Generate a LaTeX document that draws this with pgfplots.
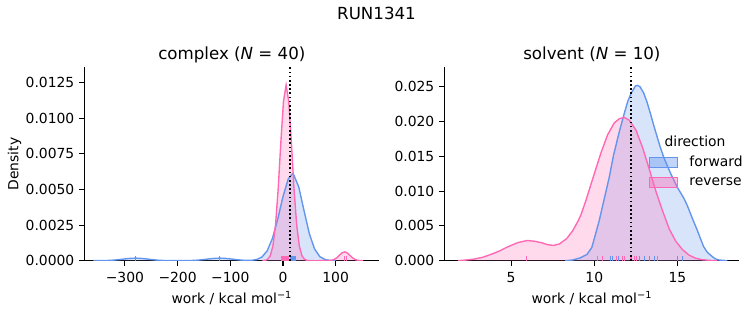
\documentclass[border=0pt]{standalone}
\usepackage{fontspec}
\setmainfont{DejaVu Sans}[ItalicFont={DejaVu Sans Oblique},BoldFont={DejaVu Sans Bold}]
\usepackage{pgfplots}
\pgfplotsset{compat=1.18}
\definecolor{fwd}{RGB}{100,149,237}
\definecolor{rev}{RGB}{255,105,180}
\pgfplotsset{
 common/.style={
  scale only axis, width=212.5pt, height=139.2pt,
  axis x line*=bottom, axis y line*=left,
  xtick pos=left, ytick pos=left, xticklabel pos=left, yticklabel pos=left,
  axis line style={-, line width=0.8pt, black},
  tick align=outside, major tick length=3.5pt,
  tick style={black, line width=0.8pt},
  scaled x ticks=false, scaled y ticks=false,
  tick label style={font=\normalsize},
  xticklabel style={anchor=north, inner sep=0pt, yshift=-4.9pt},
  yticklabel style={anchor=east, inner sep=0pt, xshift=-3.5pt},
  minor tick num=0,
 },
 kdefill/.style={fill=#1, fill opacity=0.25, draw=none, forget plot},
 kdeline/.style={draw=#1, line width=1pt, forget plot},
 rug/.style={draw=#1, ycomb, line width=0.7pt, mark=none, forget plot},
 vline/.style={black, line width=1.2pt, dash pattern=on 1.2pt off 1.8pt, forget plot},
}
\begin{document}
\begin{tikzpicture}
\path[use as bounding box] (0,0) rectangle (542.16pt,234pt);
\node[anchor=base, font=\large, inner sep=0pt] at (271.08pt,220.3pt) {RUN1341};

% ---------------- complex ----------------
\begin{axis}[common, name=L, at={(60.7pt,46.3pt)}, anchor=south west,
  xmin=-377.1, xmax=183.2, ymin=0, ymax=0.01358,
  xtick={-300,-200,-100,0,100}, xticklabels={−300,−200,−100,0,100},
  ytick={0,0.0025,0.005,0.0075,0.01,0.0125},
  yticklabels={0.0000,0.0025,0.0050,0.0075,0.0100,0.0125}]
\pgfplotstableread{
x y
-360 0.0000007
-350 0.0000026
-340 0.0000079
-330 0.0000205
-320 0.0000449
-310 0.0000824
-300 0.000127
-290 0.000165
-280 0.00018
-270 0.000165
-260 0.000127
-250 0.0000824
-240 0.0000449
-230 0.0000205
-220 0.0000079
-210 0.0000026
-200 0.0000014
-190 0.0000026
-180 0.0000079
-170 0.0000205
-160 0.0000449
-150 0.0000824
-140 0.000127
-130 0.000165
-120 0.00018
-110 0.000165
-100 0.000127
-90 0.0000824
-80 0.0000449
-70 0.0000205
-60 0.0000273
-50 0.0000798
-40 0.000255
-30 0.000691
-20 0.001558
-10 0.002907
0 0.004491
10 0.005742
18 0.0061
20 0.006072
30 0.005181
40 0.003524
50 0.00191
60 0.000826
70 0.000284
80 0.0000781
90 0.0000171
100 0.000003
}\cfwd
\pgfplotstableread{
x y
-39 0.0000041
-34 0.000022
-29 0.0000963
-24 0.000352
-19 0.001044
-14 0.00254
-9 0.005073
-4 0.008312
1 0.01118
6 0.01234
11 0.01118
16 0.008312
21 0.005073
26 0.00254
31 0.001044
36 0.000352
41 0.0000963
46 0.000022
51 0.0000041
60 0
82 0.0000014
87 0.0000069
92 0.0000272
97 0.0000839
102 0.000201
107 0.000376
112 0.000547
117 0.00062
122 0.000547
127 0.000376
132 0.000201
137 0.0000839
142 0.0000272
147 0.0000069
152 0.0000014
}\crev
\addplot[kdefill=fwd] table {\cfwd} \closedcycle;
\addplot[kdefill=rev] table {\crev} \closedcycle;
\addplot[kdeline=fwd] table {\cfwd};
\addplot[kdeline=rev] table {\crev};
\addplot[rug=fwd] coordinates {(-280,0.00034) (-120,0.00034) (15,0.00034) (16,0.00034) (17,0.00034) (18,0.00034) (19,0.00034) (20,0.00034) (21,0.00034) (22,0.00034) (23,0.00034)};
\addplot[rug=rev] coordinates {(-2,0.00034) (-1,0.00034) (0,0.00034) (1,0.00034) (2,0.00034) (3,0.00034) (4,0.00034) (5,0.00034) (6,0.00034) (7,0.00034) (8,0.00034) (9,0.00034) (10,0.00034) (11,0.00034) (116,0.00034) (121,0.00034)};
\addplot[vline] coordinates {(14,0) (14,0.01358)};
\end{axis}
\node[anchor=base, font=\large, inner sep=0pt] at ([yshift=6pt]L.north) {complex (\textit{N} = 40)};
\node[anchor=base, inner sep=0pt] at ([yshift=-30.5pt]L.south) {work / kcal mol\textsuperscript{−1}};
\node[anchor=base, rotate=90, inner sep=0pt] at ([xshift=-47.4pt]L.west) {Density};

% ---------------- solvent ----------------
\begin{axis}[common, name=R, at={(319.9pt,46.3pt)}, anchor=south west,
  xmin=0.98, xmax=18.73, ymin=0, ymax=0.02779,
  xtick={5,10,15}, xticklabels={5,10,15},
  ytick={0,0.005,0.01,0.015,0.02,0.025},
  yticklabels={0.000,0.005,0.010,0.015,0.020,0.025},
  legend image code/.code={\draw[#1] (0pt,-3.6pt) rectangle (19.7pt,3.6pt);},
  legend style={at={(axis description cs:0.6946,0.540)}, anchor=north west,
    draw=none, fill=none, inner sep=0pt, outer sep=0pt,
    column sep=8.4pt, row sep=5.6pt, nodes={inner sep=0pt}, font=\normalsize},
  legend cell align=left]
\pgfplotstableread{
x y
8.25 0
8.7 0.0001
9.15 0.0004
9.56 0.0009
9.85 0.0019
10.06 0.0037
10.3 0.0058
10.56 0.0085
10.9 0.0120
11.16 0.0152
11.5 0.0185
11.77 0.0209
12.0 0.0228
12.2 0.0240
12.47 0.0251
12.6 0.0252
12.75 0.0250
12.97 0.0241
13.17 0.0228
13.37 0.0212
13.57 0.0195
13.78 0.0178
13.97 0.0163
14.17 0.0149
14.38 0.0137
14.58 0.0126
14.78 0.0116
14.98 0.0106
15.18 0.0098
15.38 0.0090
15.58 0.0080
15.78 0.0068
15.98 0.0056
16.19 0.0044
16.38 0.0032
16.58 0.0020
16.8 0.0012
16.99 0.0008
17.25 0.0003
17.5 0.0001
18.0 0
}\sfwd
\pgfplotstableread{
x y
1.8 0
2.3 0.0001
2.8 0.00024
3.3 0.0005
3.8 0.00092
4.3 0.0014
4.8 0.002
5.4 0.0026
5.95 0.0029
6.4 0.0028
6.8 0.0026
7.2 0.0023
7.55 0.0022
7.9 0.0024
8.35 0.0032
8.7 0.0043
9.0 0.0056
9.2 0.0066
9.5 0.0087
9.75 0.0106
10.0 0.0125
10.4 0.0155
10.8 0.0181
11.2 0.0198
11.5 0.0204
11.8 0.0206
12.1 0.0202
12.5 0.0188
12.9 0.0163
13.3 0.0132
13.7 0.0100
14.1 0.0072
14.5 0.0046
14.9 0.0028
15.3 0.0016
15.7 0.0008
16.1 0.00035
16.5 0.00014
17.0 0.00004
17.4 0
}\srev
\addplot[kdefill=fwd] table {\sfwd} \closedcycle;
\addplot[kdefill=rev] table {\srev} \closedcycle;
\addplot[kdeline=fwd] table {\sfwd};
\addplot[kdeline=rev] table {\srev};
\addplot[rug=fwd] coordinates {(10.98,0.00069) (11.08,0.00069) (11.47,0.00069) (12.23,0.00069) (12.73,0.00069) (13.03,0.00069) (13.33,0.00069) (13.6,0.00069) (14.98,0.00069) (15.3,0.00069)};
\addplot[rug=rev] coordinates {(5.95,0.00069) (10.18,0.00069) (10.48,0.00069) (11.36,0.00069) (11.69,0.00069) (11.83,0.00069) (12.2,0.00069) (12.43,0.00069) (12.53,0.00069) (13.8,0.00069)};
\addplot[vline] coordinates {(12.2,0) (12.2,0.02779)};
\addlegendimage{draw=fwd, fill=fwd, fill opacity=0.4, line width=0.8pt}
\addlegendentry{forward}
\addlegendimage{draw=rev, fill=rev, fill opacity=0.4, line width=0.8pt}
\addlegendentry{reverse}
\node[anchor=base, inner sep=0pt, font=\normalsize] at (axis description cs:0.8494,0.592) {direction};
\end{axis}
\node[anchor=base, font=\large, inner sep=0pt] at ([yshift=6pt]R.north) {solvent (\textit{N} = 10)};
\node[anchor=base, inner sep=0pt] at ([yshift=-30.5pt]R.south) {work / kcal mol\textsuperscript{−1}};
\end{tikzpicture}
\end{document}
